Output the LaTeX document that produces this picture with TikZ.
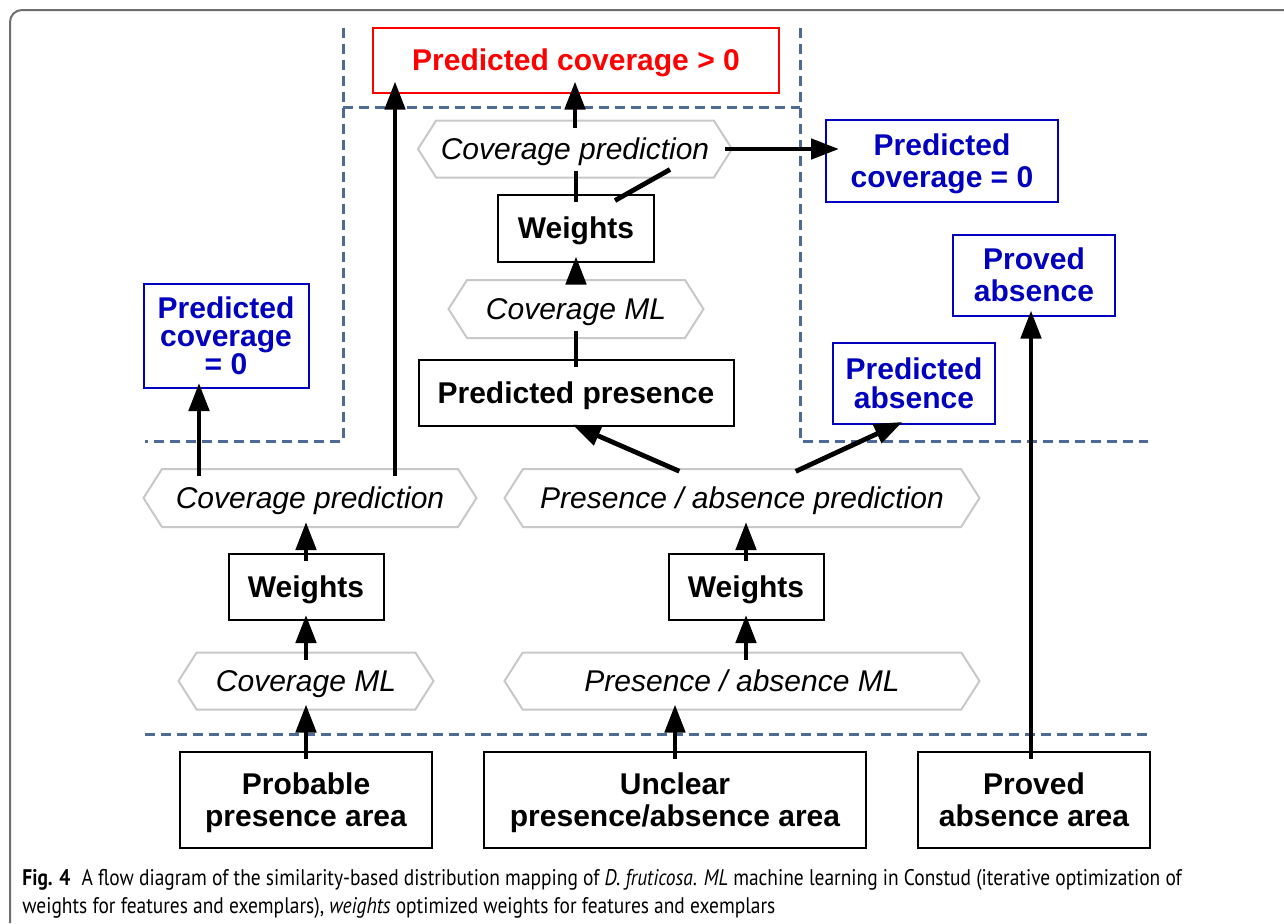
\documentclass[tikz,border=0pt]{standalone}
\usepackage{fontspec}
\setmainfont{Liberation Sans}
\newfontfamily\capfont[FakeStretch=0.86]{PT Sans}
\usetikzlibrary{arrows.meta,shapes.symbols}
\definecolor{zoneblue}{RGB}{78,106,150}
\definecolor{outblue}{RGB}{0,0,190}
\definecolor{hexgray}{RGB}{200,200,200}
\definecolor{framegray}{RGB}{110,110,110}

\begin{document}
\begin{tikzpicture}[
    x=0.5pt, y=-0.5pt,
    every node/.style={inner sep=0pt, align=center, text depth=0pt},
    box/.style={draw, line width=1pt, fill=white, font=\bfseries\fontsize{15}{15.5}\selectfont},
    bluebox/.style={box, draw=outblue, text=outblue, font=\bfseries\fontsize{15}{16}\selectfont},
    redbox/.style={box, draw=red, text=red},
    hexa/.style={signal, signal to=west and east, signal pointer angle=115, draw=hexgray,
        line width=1pt, fill=white, font=\itshape\fontsize{15}{15.5}\selectfont},
    arr/.style={line width=2.4pt, -{Triangle[length=14pt,width=10pt]}, shorten >=-3pt, shorten <=-4pt},
    link/.style={line width=2.4pt, shorten >=-4pt, shorten <=-4pt},
    zone/.style={zoneblue, line width=1.5pt, dash pattern=on 5pt off 3pt}
]
    \useasboundingbox (0,0) rectangle (1284,923);
    \draw[framegray, line width=1pt, rounded corners=6pt] (10,923) -- (10,10) -- (1284,10);

    % zones
    \draw[zone] (343,28) -- (343,441) -- (145,441);
    \draw[zone] (800,28) -- (800,441) -- (1148,441);
    \draw[zone] (343,107) -- (800,107);
    \draw[zone] (145,734) -- (1148,734);

    % outputs
    \node[redbox, minimum width=203pt, minimum height=32.5pt] (pcPos) at (576,60) {Predicted coverage > 0};
    \node[bluebox, minimum width=116pt, minimum height=41pt] (pcZeroR) at (942,161) {Predicted\\coverage = 0};
    \node[bluebox, minimum width=81pt, minimum height=40.5pt] (provAbs) at (1034,275) {Proved\\absence};
    \node[bluebox, minimum width=82.5pt, minimum height=52pt, font=\bfseries\fontsize{15}{14}\selectfont] (pcZeroL) at (226,336) {Predicted\\coverage\\= 0};
    \node[bluebox, minimum width=81pt, minimum height=40.5pt, font=\bfseries\fontsize{15}{14.5}\selectfont] (predAbs) at (914,383) {Predicted\\absence};

    % steps
    \node[hexa, minimum width=157pt, minimum height=28.5pt] (cpT) at (575,149) {Coverage prediction};
    \node[box, minimum width=78pt, minimum height=33.5pt] (wT) at (576,228) {Weights};
    \node[hexa, minimum width=127.5pt, minimum height=29pt] (cmT) at (576,309) {Coverage ML};
    \node[box, minimum width=157.5pt, minimum height=33pt] (predPres) at (576,393) {Predicted presence};
    \node[hexa, minimum width=166.5pt, minimum height=29pt] (cpL) at (310,498) {Coverage prediction};
    \node[hexa, minimum width=237.5pt, minimum height=29pt] (paPred) at (742,498) {Presence / absence prediction};
    \node[box, minimum width=77.5pt, minimum height=33pt] (wL) at (306,587) {Weights};
    \node[box, minimum width=77.5pt, minimum height=33pt] (wM) at (746,587) {Weights};
    \node[hexa, minimum width=127.5pt, minimum height=28.5pt] (cmL) at (306,681) {Coverage ML};
    \node[hexa, minimum width=237.5pt, minimum height=28.5pt] (paML) at (742,681) {Presence / absence ML};

    % areas
    \node[box, minimum width=126pt, minimum height=48pt, font=\bfseries\fontsize{15}{16}\selectfont] (probArea) at (306,800) {Probable\\presence area};
    \node[box, minimum width=191pt, minimum height=48pt, font=\bfseries\fontsize{15}{16}\selectfont] (unclArea) at (675,800) {Unclear\\presence/absence area};
    \node[box, minimum width=116pt, minimum height=48pt, font=\bfseries\fontsize{15}{16}\selectfont] (provArea) at (1034,800) {Proved\\absence area};

    \coordinate (xa) at (199,0);
    \coordinate (xb) at (395,0);
    \coordinate (xc) at (1031,0);

    % left column
    \draw[arr] (probArea.north) -- (cmL.south);
    \draw[arr] (cmL.north) -- (wL.south);
    \draw[arr] (wL.north) -- (wL.north |- cpL.south);
    \draw[arr] (cpL.north -| xa) -- (pcZeroL.south -| xa);
    \draw[arr, shorten >=-6pt] (cpL.north -| xb) -- (pcPos.south -| xb);

    % middle column
    \draw[arr] (unclArea.north) -- (unclArea.north |- paML.south);
    \draw[arr] (wM.south |- paML.north) -- (wM.south);
    \draw[arr] (wM.north) -- (wM.north |- paPred.south);
    \draw[arr] ([xshift=-35pt]paPred.north) -- ([xshift=1pt]predPres.south);
    \draw[arr] ([xshift=30.5pt]paPred.north) -- ([xshift=-8.5pt]predAbs.south);
    \draw[link] (predPres.north) -- (cmT.south);
    \draw[arr] (cmT.north) -- (wT.south);
    \draw[link] (wT.north) -- (wT.north |- cpT.south);
    \draw[link, shorten <=0pt, shorten >=0pt] ([xshift=19.5pt,yshift=-3.5pt]wT.north) -- ([xshift=47.5pt,yshift=4.5pt]cpT.south);
    \draw[arr, shorten >=-6pt] (cpT.north) -- (cpT.north |- pcPos.south);
    \draw[arr, shorten >=-7pt] (cpT.east) -- (cpT.east -| pcZeroR.west);

    % right column
    \draw[arr] (provArea.north -| xc) -- (provAbs.south -| xc);

    % caption
    \node[anchor=north west, align=left, font=\capfont\fontsize{11.3}{14}\selectfont] (cap) at (22,869)
        {\textbf{Fig. 4}\enspace A flow diagram of the similarity-based distribution mapping of \textit{D. fruticosa}. \textit{ML} machine learning in Constud (iterative optimization of\\
        weights for features and exemplars), \textit{weights} optimized weights for features and exemplars};
\end{tikzpicture}
\end{document}
